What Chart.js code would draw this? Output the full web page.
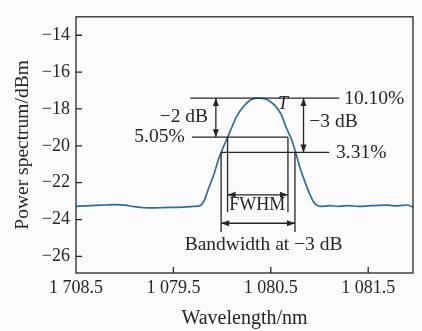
<!DOCTYPE html>
<html>
<head>
<meta charset="utf-8">
<script src="https://cdn.jsdelivr.net/npm/chart.js@4"></script>
<style>
  html, body { margin: 0; padding: 0; background: #fbfbfb; }
  #wrap { width: 422px; height: 331px; }
</style>
</head>
<body>
<div id="wrap"><canvas id="chart-spectrum" width="422" height="331"></canvas></div>
<script>
// spectrum
const wavelengths = [
  1078.50, 1078.60, 1078.70, 1078.80, 1078.90, 1079.00, 1079.10, 1079.20, 1079.30, 1079.40,
  1079.50, 1079.60, 1079.705, 1079.78, 1079.825, 1079.859, 1079.910, 1079.962, 1080.013, 1080.057,
  1080.098, 1080.149, 1080.218, 1080.287, 1080.354, 1080.40, 1080.454, 1080.539, 1080.608, 1080.659,
  1080.710, 1080.754, 1080.795, 1080.847, 1080.898, 1080.949, 1081.018, 1081.10, 1081.20, 1081.30,
  1081.40, 1081.50, 1081.60, 1081.70, 1081.80, 1081.90, 1081.96
];
const power = [
  -23.28, -23.26, -23.23, -23.21, -23.19, -23.22, -23.30, -23.36, -23.37, -23.35,
  -23.34, -23.33, -23.29, -23.22, -22.86, -22.34, -21.64, -20.76, -20.06, -19.54,
  -19.02, -18.40, -17.88, -17.53, -17.41, -17.42, -17.47, -17.79, -18.31, -19.02,
  -19.62, -20.33, -21.11, -21.90, -22.60, -23.12, -23.29, -23.25, -23.28, -23.24,
  -23.29, -23.26, -23.23, -23.22, -23.26, -23.21, -23.32
];

const xTickValues = [1078.5, 1079.5, 1080.5, 1081.5];
const xTickLabels = ['1 708.5', '1 079.5', '1 080.5', '1 081.5'];
const yTickValues = [-26, -24, -22, -20, -18, -16, -14];

// annotation levels (dBm) and edges (nm)
const peakLevel = -17.41;
const level2dB = -19.53;
const level3dB = -20.36;
const fwhmEdges = [1080.056, 1080.676];
const bandEdges = [1079.99, 1080.748];

const INK = '#262626';
const SERIF = '"Liberation Serif", "Times New Roman", serif';

const markup = {
  id: 'markup',
  afterDraw(chart) {
    const { ctx, chartArea: a, scales: { x, y } } = chart;
    const px = v => x.getPixelForValue(v);
    const py = v => y.getPixelForValue(v);

    ctx.save();
    ctx.strokeStyle = INK;
    ctx.fillStyle = INK;
    ctx.lineWidth = 1.3;

    // frame + inward ticks
    ctx.strokeRect(a.left, a.top, a.right - a.left, a.bottom - a.top);
    ctx.beginPath();
    yTickValues.forEach(v => { ctx.moveTo(a.left, py(v)); ctx.lineTo(a.left + 6, py(v)); });
    xTickValues.slice(1).forEach(v => { ctx.moveTo(px(v), a.bottom); ctx.lineTo(px(v), a.bottom - 6); });
    ctx.stroke();

    const seg = (x0, y0, x1, y1) => {
      ctx.beginPath();
      ctx.moveTo(x0, y0);
      ctx.lineTo(x1, y1);
      ctx.stroke();
    };
    const head = (tx, ty, dx, dy) => {
      // tip at (tx,ty), pointing along (dx,dy)
      const len = 8, half = 3;
      ctx.beginPath();
      ctx.moveTo(tx, ty);
      ctx.lineTo(tx - dx * len - dy * half, ty - dy * len + dx * half);
      ctx.lineTo(tx - dx * len + dy * half, ty - dy * len - dx * half);
      ctx.closePath();
      ctx.fill();
    };
    const hArrow = (x0, x1, yv) => {
      seg(px(x0), py(yv), px(x1), py(yv));
      head(px(x0), py(yv), -1, 0);
      head(px(x1), py(yv), 1, 0);
    };
    const vArrow = (xv, y0, y1) => {
      seg(px(xv), py(y0), px(xv), py(y1));
      head(px(xv), py(y0), 0, -1);
      head(px(xv), py(y1), 0, 1);
    };

    // level lines
    seg(px(1079.674), py(peakLevel), px(1081.203), py(peakLevel));
    seg(px(1079.69), py(level2dB), px(fwhmEdges[1]), py(level2dB));
    seg(px(bandEdges[0]), py(level3dB), px(1081.10), py(level3dB));

    // drop lines
    fwhmEdges.forEach(e => seg(px(e), py(level2dB), px(e), py(-23.6)));
    bandEdges.forEach(e => seg(px(e), py(level3dB), px(e), py(-24.68)));

    // arrows
    hArrow(fwhmEdges[0], fwhmEdges[1], -22.66);
    hArrow(bandEdges[0], bandEdges[1], -24.2);
    vArrow(1079.936, peakLevel, level2dB);
    vArrow(1080.836, peakLevel, level3dB);

    // labels
    ctx.font = '19.5px ' + SERIF;
    ctx.textBaseline = 'middle';
    ctx.textAlign = 'left';
    ctx.fillText('10.10%', px(1081.254), py(-17.46));
    ctx.fillText('3.31%', px(1081.17), py(level3dB));
    ctx.fillText('\u22123 dB', px(1080.895), py(-18.70));
    ctx.fillText('Bandwidth at \u22123 dB', px(1079.616), py(-25.35));
    ctx.textAlign = 'right';
    ctx.fillText('5.05%', px(1079.616), py(level2dB));
    ctx.fillText('\u22122 dB', px(1079.856), py(-18.44));
    ctx.textAlign = 'center';
    ctx.font = '18px ' + SERIF;
    ctx.fillText('FWHM', px(1080.36), py(-23.24));
    ctx.font = 'italic 18px ' + SERIF;
    ctx.fillText('T', px(1080.625), py(-17.77));

    ctx.restore();
  }
};

new Chart(document.getElementById('chart-spectrum'), {
  type: 'line',
  data: {
    datasets: [{
      data: wavelengths.map((w, i) => ({ x: w, y: power[i] })),
      borderColor: '#2f6f95',
      borderWidth: 1.7,
      pointRadius: 0,
      cubicInterpolationMode: 'monotone',
      fill: false
    }]
  },
  options: {
    responsive: false,
    animation: false,
    devicePixelRatio: 1,
    layout: { padding: { top: 8, right: 9, left: 0, bottom: 0 } },
    plugins: { legend: { display: false }, tooltip: { enabled: false } },
    scales: {
      x: {
        type: 'linear',
        min: 1078.5,
        max: 1081.96,
        afterBuildTicks: s => { s.ticks = xTickValues.map(v => ({ value: v })); },
        afterFit: s => { s.height = 58; },
        grid: { display: false, drawTicks: false },
        border: { display: false },
        ticks: {
          callback: (v, i) => xTickLabels[i],
          font: { family: SERIF, size: 18 },
          color: INK,
          padding: 4,
          maxRotation: 0,
          autoSkip: false
        },
        title: {
          display: true,
          text: 'Wavelength/nm',
          font: { family: SERIF, size: 20 },
          color: INK,
          padding: { top: 0, bottom: 0 }
        }
      },
      y: {
        min: -26.9,
        max: -13.0,
        afterBuildTicks: s => { s.ticks = yTickValues.map(v => ({ value: v })); },
        afterFit: s => { s.width = 76; },
        grid: { display: false, drawTicks: false },
        border: { display: false },
        ticks: {
          callback: v => (v < 0 ? '\u2212' : '') + Math.abs(v),
          font: { family: SERIF, size: 18 },
          color: INK,
          padding: 6
        },
        title: {
          display: true,
          text: 'Power spectrum/dBm',
          font: { family: SERIF, size: 19.5 },
          color: INK,
          padding: { top: 11, bottom: 0 }
        }
      }
    }
  },
  plugins: [markup]
});
</script>
</body>
</html>
